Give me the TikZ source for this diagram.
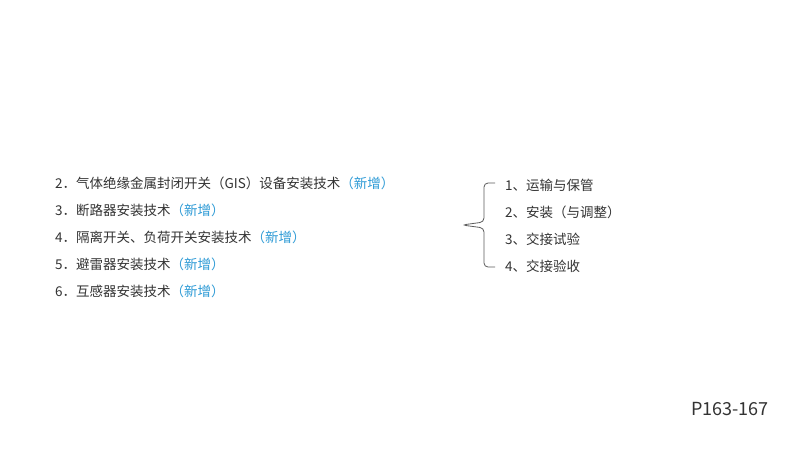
\documentclass[tikz,border=0pt]{standalone}
\usepackage{fontspec}
\setmainfont{Noto Sans CJK SC}
\definecolor{txt}{HTML}{333333}
\definecolor{blu}{HTML}{2E9BD6}
\begin{document}
\begin{tikzpicture}[x=1pt,y=-1pt,
  item/.style={anchor=west,inner sep=0pt,text=txt,font=\fontsize{13.5}{15}\selectfont},
  new/.style={text=blu}]
\useasboundingbox[fill=white] (0,0) rectangle (800,450);
\node[item] (l2) at (55,183) {2．气体绝缘金属封闭开关（GIS）设备安装技术\textcolor{blu}{（新增）}};
\node[item] (l3) at (55,210) {3．断路器安装技术\textcolor{blu}{（新增）}};
\node[item] (l4) at (55,237) {4．隔离开关、负荷开关安装技术\textcolor{blu}{（新增）}};
\node[item] (l5) at (55,264) {5．避雷器安装技术\textcolor{blu}{（新增）}};
\node[item] (l6) at (55,291) {6．互感器安装技术\textcolor{blu}{（新增）}};
\node[item] (r1) at (505,185) {1、运输与保管};
\node[item] (r2) at (505,212) {2、安装（与调整）};
\node[item] (r3) at (505,239) {3、交接试验};
\node[item] (r4) at (505,266) {4、交接验收};
\coordinate (tip) at (462,225);
\draw[txt!80,line width=0.8pt,rounded corners=4pt] (495,183) -- (484,183) -- (484,222) -- (tip) -- (484,228) -- (484,267) -- (495,267);
\node[anchor=east,inner sep=0pt,text=txt,font=\fontsize{18}{20}\selectfont] (pg) at (769,409) {P163-167};
\end{tikzpicture}
\end{document}
